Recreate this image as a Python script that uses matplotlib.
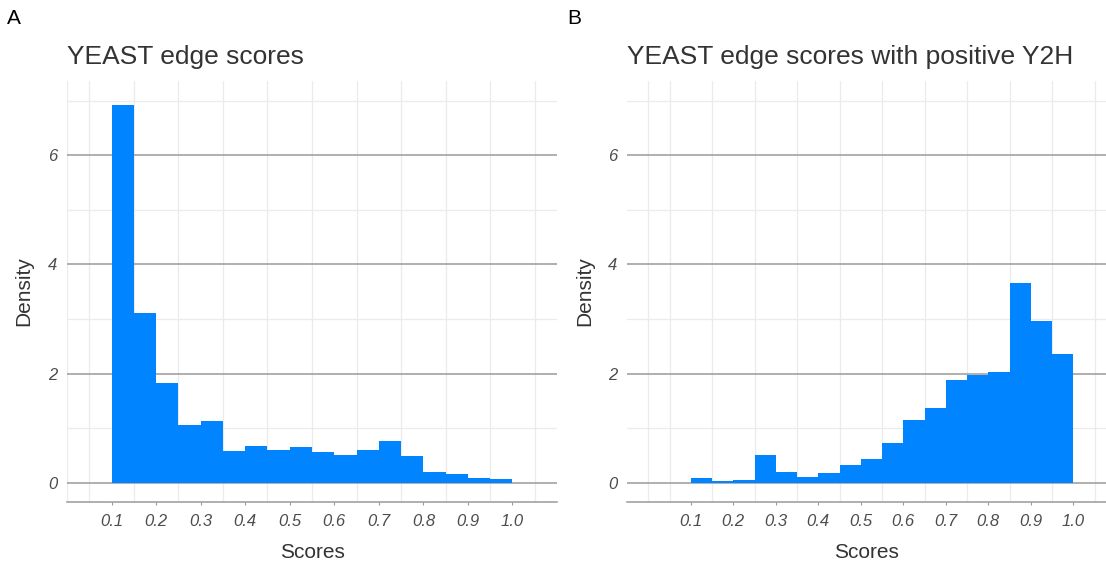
# Histograms of YEAST edge scores (all edges vs. edges with positive Y2H)

import numpy as np
import matplotlib
matplotlib.use('Agg')
import matplotlib.pyplot as plt

plt.rcParams['font.family'] = ['Liberation Sans', 'DejaVu Sans']

# Bin starts (width 0.05, from 0.1 to 1.0)
bin_starts = [0.10, 0.15, 0.20, 0.25, 0.30, 0.35, 0.40, 0.45, 0.50,
              0.55, 0.60, 0.65, 0.70, 0.75, 0.80, 0.85, 0.90, 0.95]
bin_width = 0.05

# Density per bin
density_all = [6.92, 3.10, 1.83, 1.06, 1.13, 0.58, 0.68, 0.60, 0.65,
               0.56, 0.51, 0.60, 0.77, 0.49, 0.19, 0.15, 0.085, 0.067]
density_y2h = [0.085, 0.03, 0.05, 0.51, 0.20, 0.10, 0.17, 0.32, 0.43,
               0.73, 1.14, 1.37, 1.88, 1.98, 2.03, 3.66, 2.96, 2.36]

tick_vals = [0.1, 0.2, 0.3, 0.4, 0.5, 0.6, 0.7, 0.8, 0.9, 1.0]
tick_labels = ['0.1', '0.2', '0.3', '0.4', '0.5', '0.6', '0.7', '0.8', '0.9', '1.0']
vgrid = [0.0, 0.05, 0.15, 0.25, 0.35, 0.45, 0.55, 0.65, 0.75, 0.85, 0.95, 1.05]

bar_color = '#0084FF'
W, H = 1106, 567

fig = plt.figure(figsize=(W / 100, H / 100), dpi=100)


def make_panel(left, right, xlim, heights, title, letter, letter_x, ylab_x):
    ax = fig.add_axes([left / W, (H - 502) / H, (right - left) / W, 421 / H])
    ax.set_xlim(*xlim)
    ax.set_ylim(-0.354, 7.36)

    # grid
    for x in vgrid:
        ax.axvline(x, color='#ebebeb', lw=0.9, zorder=0)
    for y in [1, 3, 5, 7]:
        ax.axhline(y, color='#ebebeb', lw=0.9, zorder=0)
    for y in [0, 2, 4, 6]:
        ax.axhline(y, color='#9a9a9a', lw=1.1, zorder=0.5)

    ax.bar(bin_starts, heights, width=bin_width, align='edge',
           color=bar_color, linewidth=0, zorder=2)

    for s in ['top', 'right', 'left']:
        ax.spines[s].set_visible(False)
    ax.spines['bottom'].set_color('#9a9a9a')
    ax.spines['bottom'].set_linewidth(1.1)

    ax.set_xticks(tick_vals)
    ax.set_xticklabels(tick_labels, fontsize=12, fontstyle='italic', color='#4d4d4d')
    ax.set_yticks([0, 2, 4, 6])
    ax.set_yticklabels(['0', '2', '4', '6'], fontsize=12, fontstyle='italic', color='#4d4d4d')
    ax.tick_params(axis='x', length=2.5, width=0.8, color='#9a9a9a', pad=6)
    ax.tick_params(axis='y', length=0, pad=7)

    ax.set_xlabel('Scores', fontsize=15, color='#333333')
    ax.xaxis.set_label_coords(0.5, (502 - 543) / 421)
    ax.set_ylabel('Density', fontsize=15, color='#333333')
    ax.yaxis.set_label_coords((ylab_x - left) / (right - left), 0.5)

    ax.text(0, (502 - 64) / 421, title, transform=ax.transAxes,
            fontsize=19, color='#333333', ha='left', va='baseline')
    fig.text(letter_x / W, 1 - 24.5 / H, letter, fontsize=15, color='black',
             ha='left', va='baseline')
    return ax


make_panel(67, 557, (0.0, 1.1), density_all, 'YEAST edge scores', 'A', 7, 33)
make_panel(627, 1106, (-0.05, 1.077), density_y2h,
           'YEAST edge scores with positive Y2H', 'B', 567, 594)

fig.savefig('out.png', dpi=100)
